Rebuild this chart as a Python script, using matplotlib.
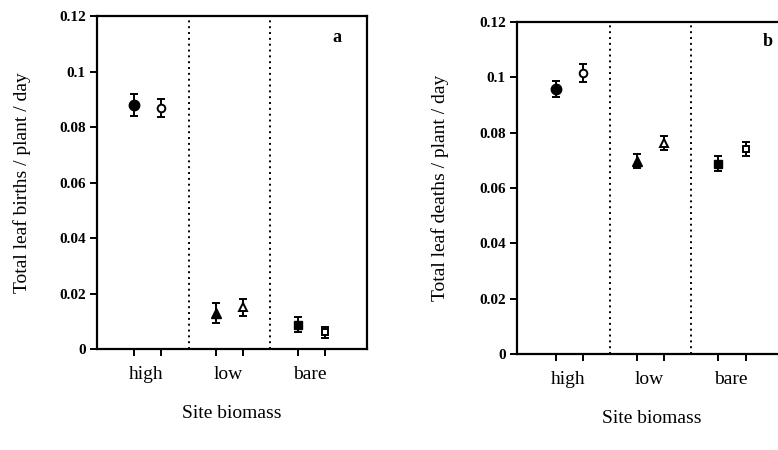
import matplotlib
matplotlib.use("Agg")
import matplotlib.pyplot as plt
import numpy as np

plt.rcParams['font.family'] = ['Liberation Serif', 'DejaVu Serif']

# site biomass categories
sites = ['high', 'low', 'bare']

# panel a: leaf births (filled / open symbols)
births_filled = [0.0879, 0.0130, 0.0087]
births_filled_err = [0.0040, 0.0036, 0.0027]
births_open = [0.0868, 0.0150, 0.0060]
births_open_err = [0.0033, 0.0030, 0.0021]

# panel b: leaf deaths
deaths_filled = [0.0958, 0.0698, 0.0688]
deaths_filled_err = [0.0029, 0.0025, 0.0028]
deaths_open = [0.1015, 0.0762, 0.0740]
deaths_open_err = [0.0032, 0.0026, 0.0026]

y_ticks = [0, 0.02, 0.04, 0.06, 0.08, 0.1, 0.12]
y_tick_labels = ['0', '0.02', '0.04', '0.06', '0.08', '0.1', '0.12']

MARKERS = ['o', '^', 's']
FILLED_SIZE = [7.5, 7, 6]
OPEN_SIZE = [5.5, 6, 5]


def DrawPanel(ax, filled, filled_err, opened, opened_err, ylabel, letter, letter_pos, xlim, ylabelpad):
    base = np.arange(len(sites)) * 3
    for i in range(len(sites)):
        ax.errorbar(base[i], filled[i], yerr=filled_err[i], fmt=MARKERS[i],
                    color='black', mfc='black', ms=FILLED_SIZE[i],
                    capsize=3, elinewidth=1.4, capthick=1.4)
        ax.errorbar(base[i] + 1, opened[i], yerr=opened_err[i], fmt=MARKERS[i],
                    color='black', mfc='white', mew=1.4, ms=OPEN_SIZE[i],
                    capsize=3, elinewidth=1.4, capthick=1.4)

    for xv in base[1:] - 1:
        ax.axvline(xv, color='black', ls=(0, (1, 2)), lw=1.4)

    ax.set_xlim(*xlim)
    ax.set_ylim(0, 0.12)
    ax.set_yticks(y_ticks)
    ax.set_yticklabels(y_tick_labels, fontweight='bold', fontsize=11)

    ax.set_xticks(np.sort(np.concatenate([base, base + 1])))
    ax.set_xticklabels([])
    ax.set_xticks(base + 0.45, minor=True)
    ax.set_xticklabels(sites, minor=True, fontsize=14)
    ax.tick_params(axis='x', which='minor', length=0, pad=12)
    ax.tick_params(axis='x', which='major', length=5, width=1.4, direction='out')
    ax.tick_params(axis='y', length=5, width=1.4, direction='out', pad=3)

    for s in ax.spines.values():
        s.set_linewidth(1.6)

    ax.set_xlabel('Site biomass', fontsize=14, labelpad=16)
    ax.set_ylabel(ylabel, fontsize=14, labelpad=ylabelpad)
    ax.text(*letter_pos, letter, transform=ax.transAxes, fontsize=13,
            fontweight='bold', ha='center', va='center')


fig = plt.figure(figsize=(7.78, 4.5), dpi=100)
ax_a = fig.add_axes([0.1247, 0.2244, 0.347, 0.74])
ax_b = fig.add_axes([0.6645, 0.2133, 0.346, 0.7378])

DrawPanel(ax_a, births_filled, births_filled_err, births_open, births_open_err,
          'Total leaf births / plant / day', 'a', (0.89, 0.935), (-1.36, 8.55), 20)
DrawPanel(ax_b, deaths_filled, deaths_filled_err, deaths_open, deaths_open_err,
          'Total leaf deaths / plant / day', 'b', (0.933, 0.94), (-1.44, 8.5), 22)

fig.savefig('out.png', dpi=100)
